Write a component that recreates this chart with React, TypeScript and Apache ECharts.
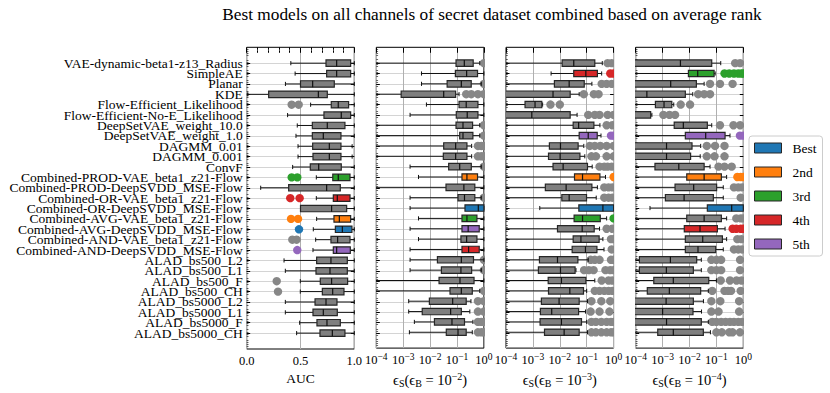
import React, { useEffect, useRef } from 'react';
import * as echarts from 'echarts';

const models = [
  'VAE-dynamic-beta1-z13_Radius', 'SimpleAE', 'Planar', 'KDE', 'Flow-Efficient_Likelihood',
  'Flow-Efficient-No-E_Likelihood', 'DeepSetVAE_weight_10.0', 'DeepSetVAE_weight_1.0', 'DAGMM_0.01',
  'DAGMM_0.001', 'ConvF', 'Combined-PROD-VAE_beta1_z21-Flow', 'Combined-PROD-DeepSVDD_MSE-Flow',
  'Combined-OR-VAE_beta1_z21-Flow', 'Combined-OR-DeepSVDD_MSE-Flow', 'Combined-AVG-VAE_beta1_z21-Flow',
  'Combined-AVG-DeepSVDD_MSE-Flow', 'Combined-AND-VAE_beta1_z21-Flow', 'Combined-AND-DeepSVDD_MSE-Flow',
  'ALAD_bs500_L2', 'ALAD_bs500_L1', 'ALAD_bs500_F', 'ALAD_bs500_CH', 'ALAD_bs5000_L2', 'ALAD_bs5000_L1',
  'ALAD_bs5000_F', 'ALAD_bs5000_CH',
];

// [whisker low, Q1, median, Q3, whisker high]
const aucStats = [
  [0.41, 0.737, 0.836, 0.966, 1.0], [0.45, 0.743, 0.836, 0.966, 1.0], [0.36, 0.50, 0.613, 0.814, 1.0],
  [0.01, 0.204, 0.666, 0.749, 1.0], [0.594, 0.786, 0.851, 0.947, 1.0], [0.38, 0.718, 0.879, 0.966, 1.0],
  [0.47, 0.61, 0.749, 0.913, 1.0], [0.458, 0.61, 0.712, 0.876, 1.0], [0.477, 0.613, 0.768, 0.876, 0.98],
  [0.477, 0.616, 0.768, 0.876, 0.98], [0.427, 0.591, 0.669, 0.879, 1.0], [0.647, 0.80, 0.851, 0.96, 1.0],
  [0.13, 0.39, 0.743, 0.87, 1.0], [0.647, 0.805, 0.842, 0.96, 1.0], [0.50, 0.50, 0.789, 0.929, 1.0],
  [0.65, 0.811, 0.861, 0.966, 1.0], [0.619, 0.824, 0.889, 0.978, 1.0], [0.641, 0.783, 0.845, 0.96, 1.0],
  [0.616, 0.805, 0.836, 0.963, 1.0], [0.347, 0.65, 0.783, 0.935, 1.0], [0.359, 0.644, 0.774, 0.935, 1.0],
  [0.498, 0.684, 0.789, 0.938, 1.0], [0.498, 0.703, 0.799, 0.904, 1.0], [0.359, 0.635, 0.737, 0.839, 1.0],
  [0.359, 0.616, 0.712, 0.842, 1.0], [0.492, 0.653, 0.746, 0.87, 1.0], [0.464, 0.681, 0.796, 0.913, 1.0],
];
const aucOutliers = [
  [], [], [], [], [0.418, 0.483], [], [], [], [], [], [], [0.418, 0.47], [], [0.405, 0.492], [],
  [0.412, 0.477], [0.486], [0.424, 0.464], [0.47], [], [], [0.279], [0.291], [], [], [], [],
];

const eps2Stats = [
  [1e-6, 0.092, 0.187, 0.40, 0.70], [4.8e-3, 0.087, 0.228, 0.58, 1.0], [4.8e-3, 0.043, 0.145, 0.338, 0.8],
  [1e-6, 8.4e-4, 0.032, 0.089, 0.119], [7.3e-3, 0.119, 0.22, 0.6, 1.0], [1.8e-3, 0.094, 0.24, 0.6, 1.0],
  [1e-6, 0.092, 0.167, 0.38, 0.7], [1e-6, 0.126, 0.167, 0.39, 0.7], [1e-6, 0.032, 0.089, 0.234, 0.35],
  [1e-6, 0.031, 0.089, 0.234, 0.35], [1.8e-3, 0.049, 0.126, 0.34, 0.8], [3.7e-3, 0.153, 0.234, 0.58, 1.0],
  [1e-6, 0.039, 0.18, 0.46, 1.0], [1.8e-3, 0.109, 0.19, 0.46, 0.8], [1.8e-3, 0.198, 0.62, 1.0, 1.0],
  [3.7e-3, 0.153, 0.234, 0.55, 1.0], [1.8e-3, 0.153, 0.26, 0.67, 1.0], [3.7e-3, 0.14, 0.228, 0.55, 1.0],
  [1.8e-3, 0.153, 0.27, 0.67, 1.0], [1.8e-3, 0.0187, 0.145, 0.41, 1.0], [1.8e-3, 0.0263, 0.14, 0.35, 0.8],
  [1e-6, 0.0215, 0.129, 0.43, 1.0], [1e-6, 0.055, 0.145, 0.37, 0.7], [1.6e-3, 9.4e-3, 0.069, 0.22, 0.33],
  [1.6e-3, 5.1e-3, 0.058, 0.145, 0.3], [2.6e-3, 0.0145, 0.065, 0.19, 0.39], [1.7e-3, 0.040, 0.109, 0.22, 0.37],
];
const eps2Outliers = [
  [1.0], [], [1.0], [0.22, 0.34, 0.6, 1.0], [], [], [1.0], [1.0], [0.6, 0.8, 1.0], [0.6, 0.8, 1.0], [1.0], [], [],
  [1.0], [], [], [], [], [], [1.0], [1.0], [], [1.0], [0.6, 1.0], [0.6, 1.0], [0.6, 0.8, 1.0], [0.6, 0.8, 1.0],
];

const eps3Stats = [
  [1e-6, 0.0122, 0.033, 0.2, 0.38], [4.75e-3, 0.033, 0.093, 0.25, 0.36], [1e-6, 6.3e-3, 0.0223, 0.081, 0.156],
  [1e-6, 5e-5, 5.6e-3, 0.0243, 0.0525], [1e-6, 5.1e-4, 1.2e-3, 2.14e-3, 2.3e-3], [1e-6, 5e-5, 9.1e-4, 0.0243, 0.044],
  [1e-6, 0.0314, 0.05, 0.185, 0.31], [1e-6, 0.0525, 0.114, 0.246, 0.34], [1e-6, 4.1e-3, 0.0106, 0.048, 0.078],
  [1e-6, 3.8e-3, 0.0103, 0.056, 0.085], [1e-6, 5.6e-3, 0.0133, 0.107, 0.16], [1e-6, 0.0352, 0.07, 0.31, 0.5],
  [1e-6, 2.9e-3, 0.0172, 0.156, 0.25], [1e-6, 0.0119, 0.0223, 0.0986, 0.226], [1.8e-3, 0.051, 0.4, 1.0, 1.0],
  [1e-6, 0.034, 0.07, 0.32, 0.55], [1e-6, 8.2e-3, 0.068, 0.19, 0.3], [1e-6, 0.0314, 0.061, 0.29, 0.4],
  [1e-6, 0.0288, 0.09, 0.24, 0.44], [1e-6, 1.75e-3, 8.2e-3, 0.047, 0.114], [1e-6, 1.6e-3, 0.0106, 0.037, 0.04],
  [1e-6, 3.7e-3, 0.0115, 0.093, 0.2], [1e-6, 3.8e-3, 0.0236, 0.076, 0.1], [1e-6, 2.07e-3, 9.4e-3, 0.0525, 0.107],
  [1e-6, 1.9e-3, 5e-3, 0.05, 0.09], [1e-6, 1.85e-3, 0.0115, 0.064, 0.1], [1e-6, 2.7e-3, 0.0145, 0.0525, 0.107],
];
const eps3Outliers = [
  [0.6, 0.85], [0.75, 1.0], [0.36, 0.55, 0.85], [0.078, 0.185, 0.276], [4.5e-3, 0.01],
  [0.114, 0.2, 0.3, 0.6, 1.0], [0.55, 0.9], [0.8, 1.0], [0.13, 0.2, 0.32, 0.55, 1.0], [0.15, 0.22, 0.55, 1.0],
  [0.3, 0.45, 0.6, 0.85], [1.0], [0.45, 0.65, 0.9], [0.45, 0.65, 0.9], [], [1.0], [0.55, 0.9], [0.8, 1.0],
  [0.85], [0.14, 0.2, 0.3, 0.8, 1.0], [0.08, 0.12, 0.18, 0.5, 0.75, 1.0], [0.36, 0.65, 0.9],
  [0.2, 0.3, 0.45, 0.65, 0.9], [0.15, 0.35, 0.75], [0.14, 0.3, 0.7], [0.15, 0.22, 0.35, 0.55, 0.8, 1.0],
  [0.15, 0.22, 0.35, 0.55, 0.8, 1.0],
];

const eps4Stats = [
  [1e-6, 5e-5, 4.6e-3, 0.067, 0.145], [1e-6, 9.1e-3, 0.0202, 0.082, 0.09], [1e-6, 5e-5, 2e-3, 0.018, 0.035],
  [1e-6, 5e-5, 2.6e-4, 7e-3, 0.0132], [1e-6, 5.4e-4, 1.13e-3, 2.2e-3, 2.6e-3], [1e-6, 5e-5, 9e-5, 3.6e-4, 4e-4],
  [1e-6, 2.7e-3, 5.9e-3, 0.046, 0.067], [1e-6, 7e-3, 0.04, 0.21, 0.32], [1e-6, 5e-5, 1.4e-3, 0.0124, 0.026],
  [1e-6, 5e-5, 1.4e-3, 0.011, 0.025], [1e-6, 5.2e-4, 4e-3, 0.035, 0.058], [1e-6, 7.9e-3, 0.035, 0.153, 0.24],
  [1e-6, 2.9e-3, 0.0143, 0.102, 0.18], [1e-6, 1.27e-3, 6.3e-3, 0.077, 0.18], [3.4e-4, 0.046, 0.37, 1.0, 1.0],
  [1e-6, 7.9e-3, 0.035, 0.153, 0.24], [1e-6, 6.4e-3, 0.0246, 0.109, 0.21], [1e-6, 7e-3, 0.031, 0.167, 0.24],
  [1e-6, 7e-3, 0.0207, 0.094, 0.18], [1e-6, 1.37e-4, 1.95e-3, 0.0185, 0.0275], [1e-6, 1.37e-4, 1.38e-3, 0.0139, 0.0275],
  [1e-6, 4.7e-4, 2.5e-3, 0.052, 0.1], [1e-6, 2.7e-4, 1.78e-3, 0.026, 0.05], [1e-6, 5e-5, 1.35e-3, 0.0139, 0.033],
  [1e-6, 5e-5, 1e-3, 0.0135, 0.028], [1e-6, 5e-5, 1.4e-3, 0.0275, 0.05], [1e-6, 6.6e-4, 2.5e-3, 0.0327, 0.06],
];
const eps4Outliers = [
  [0.5, 0.76], [0.2, 0.3, 0.45, 0.65, 0.85, 1.0], [0.058, 0.136, 0.4], [0.021, 0.035, 0.058], [4.7e-3, 0.0105],
  [1.07e-3, 1.8e-3, 2.9e-3], [0.136, 0.43, 0.76], [0.75, 1.0], [0.044, 0.089, 0.2], [0.044, 0.085, 0.2],
  [0.12, 0.2, 0.37], [0.6, 0.8, 1.0], [0.45, 0.65, 0.9], [0.8], [], [0.55, 0.8, 1.0], [0.4, 0.55, 0.8, 1.0],
  [0.6, 0.85], [0.45, 0.65, 0.9], [0.065, 0.1, 0.15, 0.76], [0.065, 0.1, 0.15, 0.76], [0.145, 0.32, 0.56, 0.86],
  [0.07, 0.2, 0.27, 0.35, 0.8], [0.065, 0.14, 0.7], [0.065, 0.12, 0.7],
  [0.07, 0.1, 0.15, 0.22, 0.32, 0.45, 0.65, 0.9], [0.1, 0.16, 0.3, 0.4, 0.75],
];

const rankNames = ['Best', '2nd', '3rd', '4th', '5th'];
const aucTop5 = ['Combined-AVG-DeepSVDD_MSE-Flow', 'Combined-AVG-VAE_beta1_z21-Flow', 'Combined-PROD-VAE_beta1_z21-Flow', 'Combined-OR-VAE_beta1_z21-Flow', 'Combined-AND-DeepSVDD_MSE-Flow'];
const eps2Top5 = ['Combined-OR-DeepSVDD_MSE-Flow', 'Combined-PROD-VAE_beta1_z21-Flow', 'Combined-AVG-VAE_beta1_z21-Flow', 'Combined-AND-DeepSVDD_MSE-Flow', 'Combined-AVG-DeepSVDD_MSE-Flow'];
const eps3Top5 = ['Combined-OR-DeepSVDD_MSE-Flow', 'Combined-PROD-VAE_beta1_z21-Flow', 'Combined-AVG-VAE_beta1_z21-Flow', 'SimpleAE', 'DeepSetVAE_weight_1.0'];
const eps4Top5 = ['Combined-OR-DeepSVDD_MSE-Flow', 'Combined-PROD-VAE_beta1_z21-Flow', 'SimpleAE', 'Combined-AVG-DeepSVDD_MSE-Flow', 'DeepSetVAE_weight_1.0'];

const aucTicks = [0, 0.5, 1.0];
const epsTickExponents = [-4, -3, -2, -1, 0];
const epsBExponents = [-2, -3, -4];

const TITLE = 'Best models on all channels of secret dataset combined based on average rank';
const FONT = 'Liberation Serif';
const RANK_COLORS = ['#1f77b4', '#ff7f0e', '#2ca02c', '#d62728', '#9467bd'];
const BOX_GRAY = '#7f7f7f';
const FLIER_GRAY = '#878787';
const EDGE = '#262626';

const PANEL_LEFT = [246.7, 376.3, 506.0, 635.7];
const PANEL_W = 107.6;
const TOP = 47.3;
const H = 301.7;
const Y_MIN = -0.53;
const Y_MAX = 28.53;

const panels = [
  { stats: aucStats, outliers: aucOutliers, top5: aucTop5, log: false, eb: 0 },
  { stats: eps2Stats, outliers: eps2Outliers, top5: eps2Top5, log: true, eb: epsBExponents[0] },
  { stats: eps3Stats, outliers: eps3Outliers, top5: eps3Top5, log: true, eb: epsBExponents[1] },
  { stats: eps4Stats, outliers: eps4Outliers, top5: eps4Top5, log: true, eb: epsBExponents[2] },
];

const sup = (n: number) => String(n).replace('-', '\u2212');

function renderBox(_params: any, api: any) {
  const row = api.value(0);
  const lo = api.value(1), q1 = api.value(2), md = api.value(3), q3 = api.value(4), hi = api.value(5);
  const rk = api.value(6);
  const [xQ1, yc] = api.coord([q1, row]);
  const xLo = api.coord([lo, row])[0];
  const xMd = api.coord([md, row])[0];
  const xQ3 = api.coord([q3, row])[0];
  const xHi = api.coord([hi, row])[0];
  const rowPx = Math.abs(api.coord([q1, row + 1])[1] - yc);
  const bh = rowPx * 0.62;
  const ch = rowPx * 0.4;
  const fill = rk >= 0 ? RANK_COLORS[rk] : BOX_GRAY;
  const ls = { stroke: '#111', lineWidth: 1 };
  return {
    type: 'group',
    children: [
      { type: 'line', shape: { x1: xLo, y1: yc, x2: xQ1, y2: yc }, style: ls },
      { type: 'line', shape: { x1: xQ3, y1: yc, x2: xHi, y2: yc }, style: ls },
      { type: 'line', shape: { x1: xLo, y1: yc - ch / 2, x2: xLo, y2: yc + ch / 2 }, style: ls },
      { type: 'line', shape: { x1: xHi, y1: yc - ch / 2, x2: xHi, y2: yc + ch / 2 }, style: ls },
      { type: 'rect', shape: { x: xQ1, y: yc - bh / 2, width: xQ3 - xQ1, height: bh }, style: { fill, stroke: EDGE, lineWidth: 1.2 } },
      { type: 'line', shape: { x1: xMd, y1: yc - bh / 2, x2: xMd, y2: yc + bh / 2 }, style: { stroke: '#111', lineWidth: 1.2 } },
    ],
  };
}

function renderFlier(_params: any, api: any) {
  const [x, y] = api.coord([api.value(0), api.value(1)]);
  const rk = api.value(2);
  return { type: 'circle', shape: { cx: x, cy: y, r: 4.2 }, style: { fill: rk >= 0 ? RANK_COLORS[rk] : FLIER_GRAY } };
}

function buildOption() {
  const grid: any[] = [];
  const xAxis: any[] = [];
  const yAxis: any[] = [];
  const series: any[] = [];
  const n = panels.length;
  const rowTop = TOP + ((1 - Y_MIN) / (Y_MAX - Y_MIN)) * H;
  const rowBottom = TOP + ((models.length - Y_MIN) / (Y_MAX - Y_MIN)) * H;

  panels.forEach((p, i) => {
    grid.push({ left: PANEL_LEFT[i], width: PANEL_W, top: TOP, height: H, show: true, borderColor: '#000', borderWidth: 1, backgroundColor: 'transparent' });
  });
  panels.forEach((p, i) => {
    grid.push({ left: PANEL_LEFT[i], width: PANEL_W, top: rowTop, height: rowBottom - rowTop, show: false });
  });

  const tickRich = {
    b: { fontFamily: FONT, fontSize: 12.5, lineHeight: 15, color: '#000' },
    p: { fontFamily: FONT, fontSize: 9.5, lineHeight: 15, verticalAlign: 'top', color: '#000' },
  };
  const nameRich = {
    e: { fontFamily: FONT, fontSize: 14.5, lineHeight: 17, color: '#000' },
    s: { fontFamily: FONT, fontSize: 10, lineHeight: 17, verticalAlign: 'bottom', color: '#000' },
    p: { fontFamily: FONT, fontSize: 10, lineHeight: 17, verticalAlign: 'top', color: '#000' },
  };

  // bottom x axes (0..3)
  panels.forEach((p, i) => {
    if (!p.log) {
      xAxis.push({
        type: 'value', gridIndex: i, min: aucTicks[0], max: aucTicks[aucTicks.length - 1], interval: aucTicks[1] - aucTicks[0],
        axisLine: { show: false },
        axisTick: { show: true, inside: true, length: 4, lineStyle: { color: '#000' } },
        minorTick: { show: true, splitNumber: 5, length: 2.5, lineStyle: { color: '#000' } },
        axisLabel: { fontFamily: FONT, fontSize: 12.5, color: '#000', margin: 5, formatter: (v: number) => v.toFixed(1) },
        splitLine: { show: true, lineStyle: { color: '#b0b0b0', width: 1 } },
        name: 'AUC', nameLocation: 'middle', nameGap: 20,
        nameTextStyle: { fontFamily: FONT, fontSize: 13.5, color: '#000' },
      });
    } else {
      xAxis.push({
        type: 'log', logBase: 10, gridIndex: i,
        min: Math.pow(10, epsTickExponents[0]), max: Math.pow(10, epsTickExponents[epsTickExponents.length - 1]),
        axisLine: { show: false },
        axisTick: { show: true, inside: true, length: 4, lineStyle: { color: '#000' } },
        axisLabel: {
          margin: 4, color: '#000', rich: tickRich,
          formatter: (v: number) => `{b|10}{p|${sup(Math.round(Math.log10(v)))}}`,
        },
        splitLine: { show: true, lineStyle: { color: '#b0b0b0', width: 1 } },
        name: `{e|\u03f5}{s|S}{e|(\u03f5}{s|B}{e| = 10}{p|${sup(p.eb)}}{e|)}`,
        nameLocation: 'middle', nameGap: 20,
        nameTextStyle: { rich: nameRich },
      });
    }
  });
  // top x axes (4..7)
  panels.forEach((p, i) => {
    const base: any = {
      gridIndex: i, position: 'top',
      axisLine: { show: false }, axisLabel: { show: false }, splitLine: { show: false },
      axisTick: { show: true, inside: true, length: 4, lineStyle: { color: '#000' } },
    };
    if (!p.log) {
      xAxis.push({ ...base, type: 'value', min: aucTicks[0], max: aucTicks[aucTicks.length - 1], interval: aucTicks[1] - aucTicks[0],
        minorTick: { show: true, splitNumber: 5, length: 2.5, lineStyle: { color: '#000' } } });
    } else {
      xAxis.push({ ...base, type: 'log', logBase: 10, min: Math.pow(10, epsTickExponents[0]), max: Math.pow(10, epsTickExponents[epsTickExponents.length - 1]) });
    }
  });
  // label grid x axes (8..11)
  panels.forEach((p, i) => {
    xAxis.push({ type: 'value', gridIndex: n + i, show: false });
  });

  // plot y axes (0..3)
  panels.forEach((p, i) => {
    yAxis.push({
      type: 'value', gridIndex: i, inverse: true, min: Y_MIN, max: Y_MAX, interval: 1,
      axisLine: { show: false }, axisLabel: { show: false }, splitLine: { show: false },
      axisTick: { show: false, inside: true },
      minorTick: { show: true, splitNumber: 5, length: 1.8, lineStyle: { color: '#000', width: 0.6 } },
    });
  });
  // label y axes left (4..7)
  panels.forEach((p, i) => {
    yAxis.push({
      type: 'category', gridIndex: n + i, data: models, inverse: true, boundaryGap: false, position: 'left',
      axisLine: { show: false },
      axisTick: { show: true, inside: true, length: 3.5, interval: 0, lineStyle: { color: '#000' } },
      axisLabel: { show: i === 0, interval: 0, fontFamily: FONT, fontSize: 13.5, lineHeight: 10, color: '#000', margin: 4 },
      splitLine: { show: true, interval: 0, lineStyle: { color: '#d4d4d4', width: 1.2 } },
    });
  });
  // label y axes right (8..11)
  panels.forEach((p, i) => {
    yAxis.push({
      type: 'category', gridIndex: n + i, data: models, inverse: true, boundaryGap: false, position: 'right',
      axisLine: { show: false },
      axisTick: { show: true, inside: true, length: 3.5, interval: 0, lineStyle: { color: '#000' } },
      axisLabel: { show: false }, splitLine: { show: false },
    });
  });

  panels.forEach((p, i) => {
    const boxData = p.stats.map((s, r) => [r + 1, ...s, p.top5.indexOf(models[r])]);
    const flierData: number[][] = [];
    p.outliers.forEach((vals, r) => {
      const rk = p.top5.indexOf(models[r]);
      vals.forEach((v) => flierData.push([v, r + 1, rk]));
    });
    series.push({
      type: 'custom', xAxisIndex: i, yAxisIndex: i, clip: true, z: 3,
      renderItem: renderFlier, encode: { x: 0, y: 1 }, data: flierData, silent: true,
    });
    series.push({
      type: 'custom', xAxisIndex: i, yAxisIndex: i, clip: true, z: 4,
      renderItem: renderBox, encode: { x: [1, 2, 3, 4, 5], y: 0 }, data: boxData, silent: true,
    });
  });

  rankNames.forEach((name, k) => {
    series.push({
      type: 'custom', name, xAxisIndex: 0, yAxisIndex: 0, data: [], renderItem: () => null,
      itemStyle: { color: RANK_COLORS[k], borderColor: EDGE, borderWidth: 1 },
    });
  });

  return {
    animation: false,
    backgroundColor: '#ffffff',
    graphic: [
      {
        type: 'text', x: 492, y: 14, silent: true,
        style: { text: TITLE, align: 'center', verticalAlign: 'middle', fontFamily: FONT, fontSize: 17.3, fill: '#000' },
      },
    ],
    legend: {
      orient: 'vertical', left: 749, top: 136, data: rankNames, icon: 'rect', selectedMode: false,
      itemWidth: 27, itemHeight: 10, itemGap: 10,
      padding: [5, 6, 5, 5], borderColor: '#cccccc', borderWidth: 1, borderRadius: 3, backgroundColor: '#ffffff',
      itemStyle: { borderColor: EDGE, borderWidth: 1 },
      textStyle: { fontFamily: FONT, fontSize: 13.5, color: '#000', padding: [0, 0, 0, 6] },
    },
    grid, xAxis, yAxis, series,
  };
}

export default function App() {
  const ref = useRef<HTMLDivElement>(null);
  useEffect(() => {
    if (!ref.current) return;
    const chart = echarts.init(ref.current, undefined, { renderer: 'svg' });
    chart.setOption(buildOption() as any);
    return () => chart.dispose();
  }, []);
  return <div ref={ref} style={{ position: 'absolute', left: 0, top: 0, width: 830, height: 393 }} />;
}
